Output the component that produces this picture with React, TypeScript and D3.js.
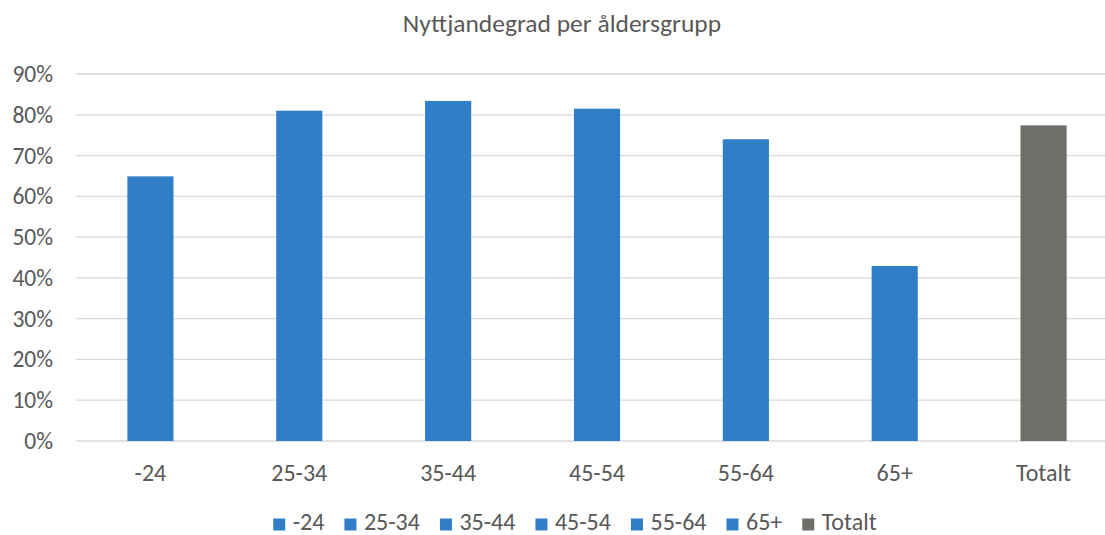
import { useLayoutEffect, useRef, useState } from 'react';
import * as d3 from 'd3';

const categories = ['-24', '25-34', '35-44', '45-54', '55-64', '65+', 'Totalt'];
const values = [0.649, 0.81, 0.834, 0.815, 0.74, 0.429, 0.774];
const barColors = ['#317ec8', '#317ec8', '#317ec8', '#317ec8', '#317ec8', '#317ec8', '#6f6e68'];
const yTicks = [0, 0.1, 0.2, 0.3, 0.4, 0.5, 0.6, 0.7, 0.8, 0.9];
const title = 'Nyttjandegrad per åldersgrupp';

const FONT = 'Carlito, Calibri, Lato, sans-serif';
const TEXT = '#595959';

const App = () => {
    const legendRef = useRef<SVGGElement>(null);
    const [widths, setWidths] = useState<number[]>(categories.map(() => 50));

    // Dimensions
    const W = 1105;
    const H = 535;
    const plot = { left: 76, right: 1118, top: 74, bottom: 441 };

    // Scales
    const x = d3.scaleBand<string>()
        .domain(categories)
        .range([plot.left, plot.right])
        .paddingInner(0.69)
        .paddingOuter(0.345);

    const y = d3.scaleLinear()
        .domain([0, 0.9])
        .range([plot.bottom, plot.top]);

    const pct = d3.format('.0%');

    // measure legend labels so the row can be centred
    useLayoutEffect(() => {
        if (!legendRef.current) return;
        const w = d3.select(legendRef.current)
            .selectAll<SVGTextElement, unknown>('text')
            .nodes()
            .map(n => n.getComputedTextLength());
        setWidths(w);
    }, []);

    const swatch = 12;
    const gapText = 7.5;
    const gapItem = 20;
    const itemW = widths.map(w => swatch + gapText + w);
    const total = d3.sum(itemW) + gapItem * (itemW.length - 1);
    let cursor = 575 - total / 2;
    const legendX = itemW.map(w => {
        const p = cursor;
        cursor += w + gapItem;
        return p;
    });

    return (
        <svg width={W} height={H} style={{ position: 'absolute', left: 0, top: 0, background: '#fff' }}
            fontFamily={FONT}>
            <text x={562} y={31.5} textAnchor="middle" fontSize={25.5} fill={TEXT}>{title}</text>

            {/* Grid */}
            <g>
                {yTicks.map(t => (
                    <line key={t} x1={plot.left} x2={W} y1={y(t)} y2={y(t)}
                        stroke="#d9d9d9" strokeWidth={1.3} />
                ))}
            </g>

            {/* Y axis labels */}
            <g>
                {yTicks.map(t => (
                    <text key={t} x={53} y={y(t)} dy="0.34em" textAnchor="end"
                        fontSize={23.5} fill={TEXT}>{pct(t)}</text>
                ))}
            </g>

            {/* Bars */}
            <g>
                {categories.map((c, i) => (
                    <rect key={c} x={x(c)} y={y(values[i])} width={x.bandwidth()}
                        height={y(0) - y(values[i])} fill={barColors[i]} />
                ))}
            </g>

            {/* X labels */}
            <g>
                {categories.map(c => (
                    <text key={c} x={(x(c) ?? 0) + x.bandwidth() / 2} y={480.5}
                        textAnchor="middle" fontSize={24} fill={TEXT}>{c}</text>
                ))}
            </g>

            {/* Legend */}
            <g ref={legendRef}>
                {categories.map((c, i) => (
                    <g key={c} transform={`translate(${legendX[i]},0)`}>
                        <rect x={0} y={518.5} width={swatch} height={swatch} fill={barColors[i]} />
                        <text x={swatch + gapText} y={529.5} fontSize={24} fill={TEXT}>{c}</text>
                    </g>
                ))}
            </g>
        </svg>
    );
};

export default App;
